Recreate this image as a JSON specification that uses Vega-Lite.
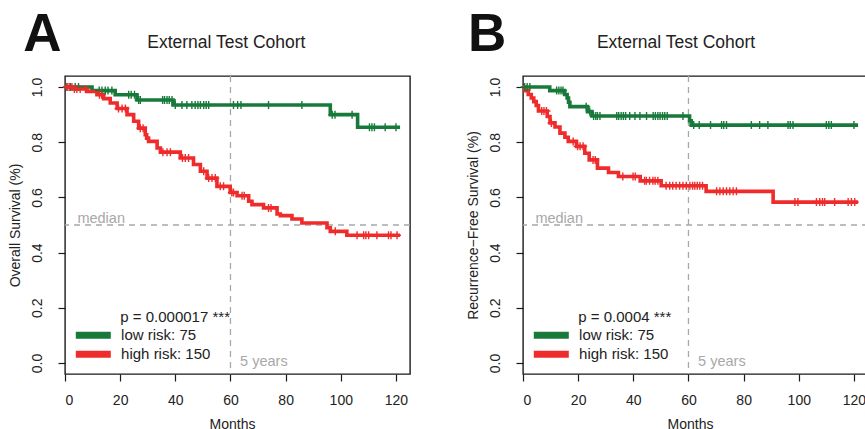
{
  "$schema": "https://vega.github.io/schema/vega-lite/v6.json",
  "background": "white",
  "padding": {"left": 7, "top": 7, "right": 0, "bottom": 0},
  "bounds": "flush",
  "spacing": 113,
  "datasets": {
    "curves": [
      {"p":"A","g":"low","t":0,"s":1},{"p":"A","g":"low","t":9.8,"s":0.987},{"p":"A","g":"low","t":18.2,"s":0.972},{"p":"A","g":"low","t":26.1,"s":0.953},{"p":"A","g":"low","t":39.2,"s":0.935},{"p":"A","g":"low","t":96.2,"s":0.9},{"p":"A","g":"low","t":106.1,"s":0.854},{"p":"A","g":"low","t":121.5,"s":0.854},
      {"p":"A","g":"high","t":0,"s":1},{"p":"A","g":"high","t":3,"s":0.993},{"p":"A","g":"high","t":8,"s":0.984},{"p":"A","g":"high","t":11.6,"s":0.972},{"p":"A","g":"high","t":14,"s":0.958},{"p":"A","g":"high","t":16.4,"s":0.942},{"p":"A","g":"high","t":18.9,"s":0.922},{"p":"A","g":"high","t":22.5,"s":0.9},{"p":"A","g":"high","t":24.9,"s":0.876},{"p":"A","g":"high","t":26.7,"s":0.851},{"p":"A","g":"high","t":29.1,"s":0.827},{"p":"A","g":"high","t":29.6,"s":0.815},{"p":"A","g":"high","t":30.3,"s":0.803},{"p":"A","g":"high","t":33.4,"s":0.779},{"p":"A","g":"high","t":34.6,"s":0.764},{"p":"A","g":"high","t":41.8,"s":0.743},{"p":"A","g":"high","t":46.6,"s":0.719},{"p":"A","g":"high","t":49.1,"s":0.695},{"p":"A","g":"high","t":51.5,"s":0.67},{"p":"A","g":"high","t":55.1,"s":0.64},{"p":"A","g":"high","t":59.9,"s":0.618},{"p":"A","g":"high","t":62.4,"s":0.606},{"p":"A","g":"high","t":66.6,"s":0.586},{"p":"A","g":"high","t":67.8,"s":0.574},{"p":"A","g":"high","t":72,"s":0.562},{"p":"A","g":"high","t":76.9,"s":0.54},{"p":"A","g":"high","t":78.1,"s":0.534},{"p":"A","g":"high","t":82.3,"s":0.522},{"p":"A","g":"high","t":85.9,"s":0.507},{"p":"A","g":"high","t":95,"s":0.49},{"p":"A","g":"high","t":96.2,"s":0.477},{"p":"A","g":"high","t":102.2,"s":0.463},{"p":"A","g":"high","t":121.5,"s":0.463},
      {"p":"B","g":"low","t":0,"s":1},{"p":"B","g":"low","t":9.7,"s":0.987},{"p":"B","g":"low","t":15.1,"s":0.973},{"p":"B","g":"low","t":16,"s":0.96},{"p":"B","g":"low","t":16.5,"s":0.945},{"p":"B","g":"low","t":17,"s":0.929},{"p":"B","g":"low","t":23.4,"s":0.911},{"p":"B","g":"low","t":25,"s":0.895},{"p":"B","g":"low","t":60.4,"s":0.878},{"p":"B","g":"low","t":61,"s":0.862},{"p":"B","g":"low","t":121.5,"s":0.862},
      {"p":"B","g":"high","t":0,"s":1},{"p":"B","g":"high","t":0.7,"s":0.987},{"p":"B","g":"high","t":1.9,"s":0.973},{"p":"B","g":"high","t":3,"s":0.96},{"p":"B","g":"high","t":3.9,"s":0.947},{"p":"B","g":"high","t":4.8,"s":0.933},{"p":"B","g":"high","t":5.6,"s":0.913},{"p":"B","g":"high","t":8.8,"s":0.893},{"p":"B","g":"high","t":9.8,"s":0.87},{"p":"B","g":"high","t":11.6,"s":0.855},{"p":"B","g":"high","t":13.4,"s":0.833},{"p":"B","g":"high","t":15.2,"s":0.818},{"p":"B","g":"high","t":16.4,"s":0.803},{"p":"B","g":"high","t":19.4,"s":0.785},{"p":"B","g":"high","t":22.4,"s":0.76},{"p":"B","g":"high","t":24,"s":0.736},{"p":"B","g":"high","t":27,"s":0.706},{"p":"B","g":"high","t":31,"s":0.69},{"p":"B","g":"high","t":34.6,"s":0.676},{"p":"B","g":"high","t":42.5,"s":0.66},{"p":"B","g":"high","t":50.1,"s":0.642},{"p":"B","g":"high","t":66.4,"s":0.622},{"p":"B","g":"high","t":90.7,"s":0.583},{"p":"B","g":"high","t":121.5,"s":0.583}
    ],
    "censors": [
      {"p":"A","g":"low","t":0.7,"s":1},{"p":"A","g":"low","t":1.9,"s":1},{"p":"A","g":"low","t":3.7,"s":1},{"p":"A","g":"low","t":4.9,"s":1},
      {"p":"A","g":"low","t":12.4,"s":0.987},{"p":"A","g":"low","t":13.4,"s":0.987},{"p":"A","g":"low","t":14.6,"s":0.987},{"p":"A","g":"low","t":15.6,"s":0.987},{"p":"A","g":"low","t":17,"s":0.987},
      {"p":"A","g":"low","t":23.1,"s":0.972},{"p":"A","g":"low","t":24,"s":0.972},{"p":"A","g":"low","t":25.2,"s":0.972},
      {"p":"A","g":"low","t":26.7,"s":0.953},{"p":"A","g":"low","t":27.3,"s":0.953},{"p":"A","g":"low","t":35.4,"s":0.953},{"p":"A","g":"low","t":36.1,"s":0.953},{"p":"A","g":"low","t":37,"s":0.953},{"p":"A","g":"low","t":37.8,"s":0.953},{"p":"A","g":"low","t":38.8,"s":0.953},
      {"p":"A","g":"low","t":40,"s":0.935},{"p":"A","g":"low","t":42.4,"s":0.935},{"p":"A","g":"low","t":44.2,"s":0.935},{"p":"A","g":"low","t":46,"s":0.935},{"p":"A","g":"low","t":47.2,"s":0.935},{"p":"A","g":"low","t":48.2,"s":0.935},{"p":"A","g":"low","t":49.1,"s":0.935},{"p":"A","g":"low","t":50.3,"s":0.935},{"p":"A","g":"low","t":51.2,"s":0.935},{"p":"A","g":"low","t":52.1,"s":0.935},{"p":"A","g":"low","t":61.1,"s":0.935},{"p":"A","g":"low","t":62.6,"s":0.935},{"p":"A","g":"low","t":63.8,"s":0.935},{"p":"A","g":"low","t":73.8,"s":0.935},{"p":"A","g":"low","t":85.9,"s":0.935},
      {"p":"A","g":"low","t":96.9,"s":0.9},{"p":"A","g":"low","t":97.9,"s":0.9},{"p":"A","g":"low","t":104.1,"s":0.9},
      {"p":"A","g":"low","t":110.4,"s":0.854},{"p":"A","g":"low","t":111.3,"s":0.854},{"p":"A","g":"low","t":112.2,"s":0.854},{"p":"A","g":"low","t":116.1,"s":0.854},{"p":"A","g":"low","t":120,"s":0.854},
      {"p":"A","g":"high","t":0.7,"s":1},{"p":"A","g":"high","t":1.5,"s":1},{"p":"A","g":"high","t":2.5,"s":1},{"p":"A","g":"high","t":3.4,"s":0.993},{"p":"A","g":"high","t":4.3,"s":0.993},{"p":"A","g":"high","t":5.5,"s":0.993},{"p":"A","g":"high","t":7.4,"s":0.993},
      {"p":"A","g":"high","t":12.5,"s":0.972},{"p":"A","g":"high","t":13.3,"s":0.972},
      {"p":"A","g":"high","t":19.4,"s":0.922},{"p":"A","g":"high","t":20.7,"s":0.922},{"p":"A","g":"high","t":21.9,"s":0.922},
      {"p":"A","g":"high","t":27.3,"s":0.851},{"p":"A","g":"high","t":28.3,"s":0.851},
      {"p":"A","g":"high","t":35.5,"s":0.764},{"p":"A","g":"high","t":37,"s":0.764},{"p":"A","g":"high","t":38.2,"s":0.764},
      {"p":"A","g":"high","t":42.6,"s":0.743},{"p":"A","g":"high","t":43.6,"s":0.743},{"p":"A","g":"high","t":44.8,"s":0.743},
      {"p":"A","g":"high","t":50.3,"s":0.695},{"p":"A","g":"high","t":52.1,"s":0.67},{"p":"A","g":"high","t":53.3,"s":0.67},{"p":"A","g":"high","t":54.5,"s":0.67},
      {"p":"A","g":"high","t":56.3,"s":0.64},{"p":"A","g":"high","t":57.5,"s":0.64},{"p":"A","g":"high","t":60.5,"s":0.618},{"p":"A","g":"high","t":61.1,"s":0.618},
      {"p":"A","g":"high","t":64.2,"s":0.606},{"p":"A","g":"high","t":65,"s":0.606},{"p":"A","g":"high","t":73.8,"s":0.562},{"p":"A","g":"high","t":74.7,"s":0.562},
      {"p":"A","g":"high","t":98,"s":0.477},
      {"p":"A","g":"high","t":105.9,"s":0.463},{"p":"A","g":"high","t":108.3,"s":0.463},{"p":"A","g":"high","t":109.1,"s":0.463},{"p":"A","g":"high","t":110.1,"s":0.463},{"p":"A","g":"high","t":113.1,"s":0.463},{"p":"A","g":"high","t":117.3,"s":0.463},{"p":"A","g":"high","t":118.2,"s":0.463},{"p":"A","g":"high","t":120.4,"s":0.463},
      {"p":"B","g":"low","t":0.6,"s":1},{"p":"B","g":"low","t":1.5,"s":1},{"p":"B","g":"low","t":2.5,"s":1},
      {"p":"B","g":"low","t":12.2,"s":0.987},{"p":"B","g":"low","t":13,"s":0.987},{"p":"B","g":"low","t":13.8,"s":0.987},{"p":"B","g":"low","t":14.5,"s":0.987},
      {"p":"B","g":"low","t":22.9,"s":0.929},{"p":"B","g":"low","t":24.2,"s":0.911},
      {"p":"B","g":"low","t":25.6,"s":0.895},{"p":"B","g":"low","t":26.4,"s":0.895},{"p":"B","g":"low","t":27,"s":0.895},{"p":"B","g":"low","t":27.9,"s":0.895},{"p":"B","g":"low","t":34,"s":0.895},{"p":"B","g":"low","t":34.7,"s":0.895},{"p":"B","g":"low","t":35.6,"s":0.895},{"p":"B","g":"low","t":36.4,"s":0.895},{"p":"B","g":"low","t":37.2,"s":0.895},{"p":"B","g":"low","t":38.7,"s":0.895},{"p":"B","g":"low","t":40.6,"s":0.895},{"p":"B","g":"low","t":42.4,"s":0.895},{"p":"B","g":"low","t":44.8,"s":0.895},{"p":"B","g":"low","t":47.2,"s":0.895},{"p":"B","g":"low","t":48,"s":0.895},{"p":"B","g":"low","t":48.9,"s":0.895},{"p":"B","g":"low","t":49.7,"s":0.895},{"p":"B","g":"low","t":50.6,"s":0.895},{"p":"B","g":"low","t":51.4,"s":0.895},{"p":"B","g":"low","t":52.3,"s":0.895},{"p":"B","g":"low","t":58,"s":0.895},
      {"p":"B","g":"low","t":61.9,"s":0.862},{"p":"B","g":"low","t":63.9,"s":0.862},{"p":"B","g":"low","t":68,"s":0.862},{"p":"B","g":"low","t":72,"s":0.862},{"p":"B","g":"low","t":72.8,"s":0.862},{"p":"B","g":"low","t":73.8,"s":0.862},{"p":"B","g":"low","t":82.8,"s":0.862},{"p":"B","g":"low","t":85.8,"s":0.862},{"p":"B","g":"low","t":88.8,"s":0.862},{"p":"B","g":"low","t":96.1,"s":0.862},{"p":"B","g":"low","t":96.9,"s":0.862},{"p":"B","g":"low","t":97.9,"s":0.862},{"p":"B","g":"low","t":110,"s":0.862},{"p":"B","g":"low","t":110.9,"s":0.862},{"p":"B","g":"low","t":111.8,"s":0.862},{"p":"B","g":"low","t":120,"s":0.862},
      {"p":"B","g":"high","t":6.8,"s":0.913},{"p":"B","g":"high","t":7.6,"s":0.913},{"p":"B","g":"high","t":8.5,"s":0.913},{"p":"B","g":"high","t":10.3,"s":0.87},
      {"p":"B","g":"high","t":18.2,"s":0.803},{"p":"B","g":"high","t":19.8,"s":0.785},{"p":"B","g":"high","t":20.7,"s":0.785},{"p":"B","g":"high","t":21.8,"s":0.785},
      {"p":"B","g":"high","t":25.4,"s":0.736},{"p":"B","g":"high","t":26.2,"s":0.736},
      {"p":"B","g":"high","t":36.2,"s":0.676},{"p":"B","g":"high","t":39.9,"s":0.676},{"p":"B","g":"high","t":40.7,"s":0.676},
      {"p":"B","g":"high","t":44.1,"s":0.66},{"p":"B","g":"high","t":44.7,"s":0.66},{"p":"B","g":"high","t":45.9,"s":0.66},{"p":"B","g":"high","t":47.1,"s":0.66},{"p":"B","g":"high","t":47.9,"s":0.66},{"p":"B","g":"high","t":48.9,"s":0.66},
      {"p":"B","g":"high","t":51.9,"s":0.642},{"p":"B","g":"high","t":53.2,"s":0.642},{"p":"B","g":"high","t":54.3,"s":0.642},{"p":"B","g":"high","t":55.5,"s":0.642},{"p":"B","g":"high","t":56.8,"s":0.642},{"p":"B","g":"high","t":58,"s":0.642},{"p":"B","g":"high","t":59.2,"s":0.642},{"p":"B","g":"high","t":60.5,"s":0.642},{"p":"B","g":"high","t":61.5,"s":0.642},{"p":"B","g":"high","t":62.3,"s":0.642},{"p":"B","g":"high","t":63.2,"s":0.642},{"p":"B","g":"high","t":64.1,"s":0.642},{"p":"B","g":"high","t":65.1,"s":0.642},
      {"p":"B","g":"high","t":70.2,"s":0.622},{"p":"B","g":"high","t":71.4,"s":0.622},{"p":"B","g":"high","t":72.6,"s":0.622},{"p":"B","g":"high","t":73.8,"s":0.622},{"p":"B","g":"high","t":75,"s":0.622},{"p":"B","g":"high","t":76.2,"s":0.622},{"p":"B","g":"high","t":77.4,"s":0.622},
      {"p":"B","g":"high","t":98.6,"s":0.583},{"p":"B","g":"high","t":99.7,"s":0.583},{"p":"B","g":"high","t":106.4,"s":0.583},{"p":"B","g":"high","t":107.6,"s":0.583},{"p":"B","g":"high","t":108.6,"s":0.583},{"p":"B","g":"high","t":109.4,"s":0.583},{"p":"B","g":"high","t":113,"s":0.583},{"p":"B","g":"high","t":117.9,"s":0.583},{"p":"B","g":"high","t":119.1,"s":0.583},{"p":"B","g":"high","t":120.3,"s":0.583}
    ]
  },
  "hconcat": [
    {
      "width": 345, "height": 298,
      "layer": [
        {"data": {"values": [{}]}, "mark": {"type": "rule", "color": "#a8a8a8", "strokeDash": [6, 5], "strokeWidth": 1.3},
         "encoding": {"x": {"datum": 60, "type": "quantitative"}}},
        {"data": {"values": [{}]}, "mark": {"type": "rule", "color": "#a8a8a8", "strokeDash": [6, 5], "strokeWidth": 1.3},
         "encoding": {"y": {"datum": 0.5, "type": "quantitative"}}},
        {"data": {"name": "curves"}, "transform": [{"filter": "datum.p == 'A'"}],
         "mark": {"type": "line", "interpolate": "step-after", "strokeWidth": 3.6},
         "encoding": {
           "x": {"field": "t", "type": "quantitative", "scale": {"domain": [0, 125.1], "nice": false, "zero": false},
                 "axis": {"values": [0, 20, 40, 60, 80, 100, 120], "title": "Months", "titleX": 167}},
           "y": {"field": "s", "type": "quantitative", "scale": {"domain": [-0.04, 1.04], "nice": false, "zero": false},
                 "axis": {"values": [0, 0.2, 0.4, 0.6, 0.8, 1], "format": ".1f", "title": "Overall Survival (%)"}},
           "color": {"field": "g", "type": "nominal", "scale": {"domain": ["low", "high"], "range": ["#17793a", "#ef2b2b"]},
                     "legend": {"labelExpr": "datum.label == 'low' ? 'low risk: 75' : 'high risk: 150'"}}
         }},
        {"data": {"name": "censors"}, "transform": [{"filter": "datum.p == 'A'"}],
         "mark": {"type": "point", "shape": "M0,-1L0,1M-1,0L1,0", "filled": false, "size": 64, "strokeWidth": 1.4, "opacity": 1},
         "encoding": {
           "x": {"field": "t", "type": "quantitative"},
           "y": {"field": "s", "type": "quantitative"},
           "color": {"field": "g", "type": "nominal", "legend": null}
         }},
        {"data": {"values": [{}]}, "mark": {"type": "text", "text": "median", "align": "left", "baseline": "alphabetic", "dy": -2, "fontSize": 14.5, "color": "#a8a8a8"},
         "encoding": {"x": {"datum": 4.5, "type": "quantitative"}, "y": {"datum": 0.5, "type": "quantitative"}}},
        {"data": {"values": [{}]}, "mark": {"type": "text", "text": "5 years", "align": "left", "baseline": "middle", "fontSize": 14.5, "color": "#a8a8a8"},
         "encoding": {"x": {"datum": 63.5, "type": "quantitative"}, "y": {"datum": 0.004, "type": "quantitative"}}},
        {"data": {"values": [{}]}, "mark": {"type": "text", "text": "p = 0.000017 ***", "align": "left", "baseline": "middle", "fontSize": 15, "color": "#222"},
         "encoding": {"x": {"datum": 20.05, "type": "quantitative"}, "y": {"datum": 0.167, "type": "quantitative"}}},
        {"data": {"values": [{}]}, "mark": {"type": "text", "text": "External Test Cohort", "align": "center", "baseline": "middle", "fontSize": 17.5, "color": "#222"},
         "encoding": {"x": {"datum": 58.5, "type": "quantitative"}, "y": {"datum": 1.158, "type": "quantitative"}}},
        {"data": {"values": [{}]}, "mark": {"type": "text", "text": "A", "align": "center", "baseline": "middle", "fontSize": 53, "fontWeight": "bold", "color": "#111"},
         "encoding": {"x": {"datum": -8.2, "type": "quantitative"}, "y": {"datum": 1.19, "type": "quantitative"}}}
      ]
    },
    {
      "width": 345, "height": 298,
      "layer": [
        {"data": {"values": [{}]}, "mark": {"type": "rule", "color": "#a8a8a8", "strokeDash": [6, 5], "strokeWidth": 1.3},
         "encoding": {"x": {"datum": 60, "type": "quantitative"}}},
        {"data": {"values": [{}]}, "mark": {"type": "rule", "color": "#a8a8a8", "strokeDash": [6, 5], "strokeWidth": 1.3},
         "encoding": {"y": {"datum": 0.5, "type": "quantitative"}}},
        {"data": {"name": "curves"}, "transform": [{"filter": "datum.p == 'B'"}],
         "mark": {"type": "line", "interpolate": "step-after", "strokeWidth": 3.6},
         "encoding": {
           "x": {"field": "t", "type": "quantitative", "scale": {"domain": [0, 125.1], "nice": false, "zero": false},
                 "axis": {"values": [0, 20, 40, 60, 80, 100, 120], "title": "Months", "titleX": 167}},
           "y": {"field": "s", "type": "quantitative", "scale": {"domain": [-0.04, 1.04], "nice": false, "zero": false},
                 "axis": {"values": [0, 0.2, 0.4, 0.6, 0.8, 1], "format": ".1f", "title": "Recurrence−Free Survival (%)"}},
           "color": {"field": "g", "type": "nominal", "scale": {"domain": ["low", "high"], "range": ["#17793a", "#ef2b2b"]},
                     "legend": {"labelExpr": "datum.label == 'low' ? 'low risk: 75' : 'high risk: 150'"}}
         }},
        {"data": {"name": "censors"}, "transform": [{"filter": "datum.p == 'B'"}],
         "mark": {"type": "point", "shape": "M0,-1L0,1M-1,0L1,0", "filled": false, "size": 64, "strokeWidth": 1.4, "opacity": 1},
         "encoding": {
           "x": {"field": "t", "type": "quantitative"},
           "y": {"field": "s", "type": "quantitative"},
           "color": {"field": "g", "type": "nominal", "legend": null}
         }},
        {"data": {"values": [{}]}, "mark": {"type": "text", "text": "median", "align": "left", "baseline": "alphabetic", "dy": -2, "fontSize": 14.5, "color": "#a8a8a8"},
         "encoding": {"x": {"datum": 4.5, "type": "quantitative"}, "y": {"datum": 0.5, "type": "quantitative"}}},
        {"data": {"values": [{}]}, "mark": {"type": "text", "text": "5 years", "align": "left", "baseline": "middle", "fontSize": 14.5, "color": "#a8a8a8"},
         "encoding": {"x": {"datum": 63.5, "type": "quantitative"}, "y": {"datum": 0.004, "type": "quantitative"}}},
        {"data": {"values": [{}]}, "mark": {"type": "text", "text": "p = 0.0004 ***", "align": "left", "baseline": "middle", "fontSize": 15, "color": "#222"},
         "encoding": {"x": {"datum": 20.05, "type": "quantitative"}, "y": {"datum": 0.167, "type": "quantitative"}}},
        {"data": {"values": [{}]}, "mark": {"type": "text", "text": "External Test Cohort", "align": "center", "baseline": "middle", "fontSize": 17.5, "color": "#222"},
         "encoding": {"x": {"datum": 55.5, "type": "quantitative"}, "y": {"datum": 1.158, "type": "quantitative"}}},
        {"data": {"values": [{}]}, "mark": {"type": "text", "text": "B", "align": "center", "baseline": "middle", "fontSize": 53, "fontWeight": "bold", "color": "#111"},
         "encoding": {"x": {"datum": -13, "type": "quantitative"}, "y": {"datum": 1.19, "type": "quantitative"}}}
      ]
    }
  ],
  "resolve": {"scale": {"color": "independent", "x": "independent", "y": "independent"}, "legend": {"color": "independent"}},
  "config": {
    "font": "Liberation Sans",
    "view": {"stroke": "#1a1a1a", "strokeWidth": 1.4},
    "axis": {"domain": false, "grid": false, "ticks": true, "tickColor": "#1a1a1a", "tickSize": 7, "tickWidth": 1.2,
             "labelFont": "Liberation Sans", "labelFontSize": 14, "labelColor": "#222",
             "titleFont": "Liberation Sans", "titleFontSize": 14, "titleFontWeight": "normal", "titleColor": "#222"},
    "axisY": {"labelAngle": -90, "labelAlign": "center", "labelBaseline": "bottom", "labelPadding": 14, "titlePadding": 8},
    "axisX": {"labelPadding": 12, "titlePadding": 10},
    "legend": {"title": null, "orient": "bottom-left", "offset": 10.4, "padding": 0, "clipHeight": 18.3,
               "symbolType": "M-35,0L35,0", "symbolSize": 1, "symbolStrokeWidth": 7, "symbolOffset": 10.8,
               "labelOffset": 20.3, "labelFontSize": 15, "labelFont": "Liberation Sans", "labelColor": "#222", "rowPadding": 0}
  }
}
